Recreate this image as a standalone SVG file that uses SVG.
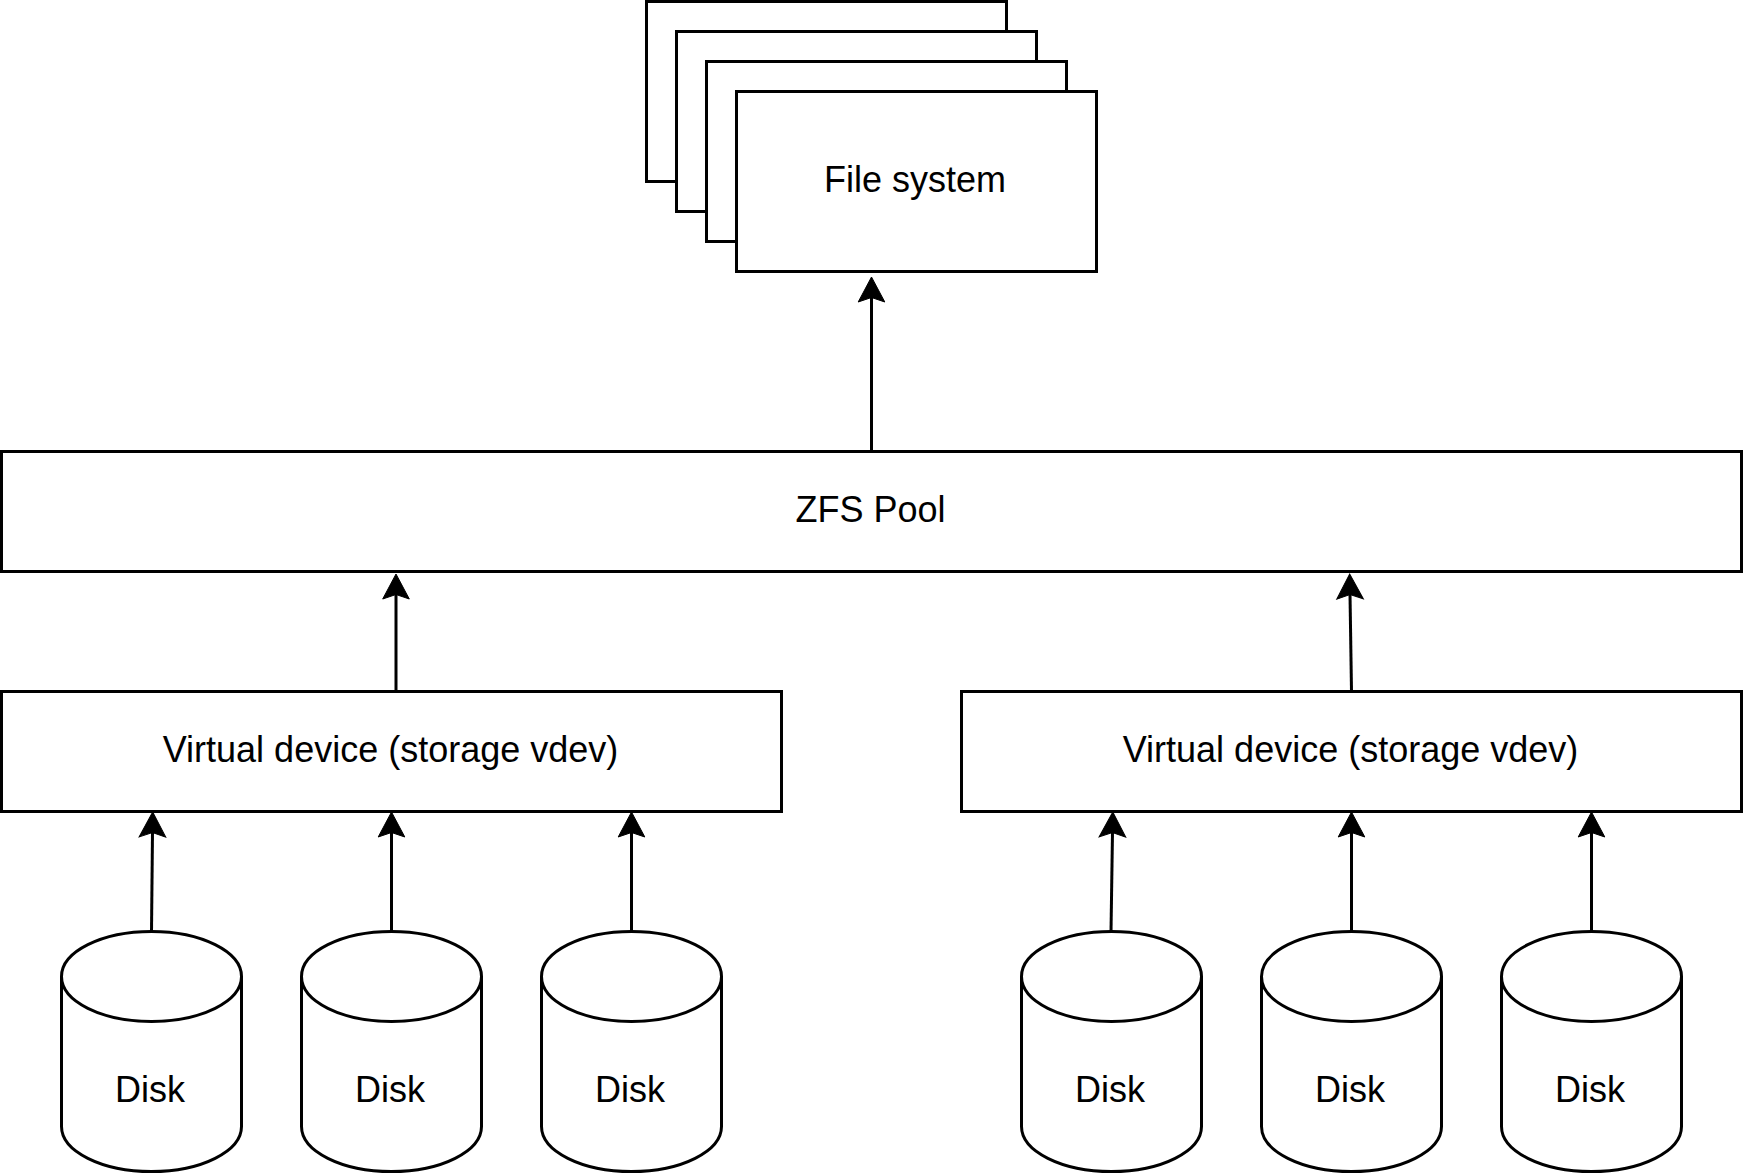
<svg xmlns="http://www.w3.org/2000/svg" width="1746" height="1176" viewBox="0 0 1746 1176">
<style>
.box{fill:#fff;stroke:#000;stroke-width:3}
.lbl{font-family:"Liberation Sans",Arial,Helvetica,sans-serif;font-size:36px;fill:#000;text-anchor:middle}
.edge{fill:none;stroke:#000;stroke-width:3;marker-end:url(#arr)}
</style>
<defs>
<marker id="arr" markerUnits="userSpaceOnUse" viewBox="-27 -15 30 30" markerWidth="30" markerHeight="30" refX="-20" refY="0" orient="auto" overflow="visible">
<path d="M0,0 L-25,-13.3 L-20.5,0 L-25,13.3 Z" fill="#000" stroke="#000" stroke-width="1"/>
</marker>
</defs>
<rect width="1746" height="1176" fill="#fff"/>
<g id="filesystem">
<rect class="box" x="646.5" y="1.5" width="360" height="180"/>
<rect class="box" x="676.5" y="31.5" width="360" height="180"/>
<rect class="box" x="706.5" y="61.5" width="360" height="180"/>
<rect class="box" x="736.5" y="91.5" width="360" height="180"/>
<text class="lbl" x="915" y="192">File system</text>
</g>
<g id="pool">
<rect class="box" x="1.5" y="451.5" width="1740" height="120"/>
<text class="lbl" x="870.5" y="521.7">ZFS Pool</text>
</g>
<g id="vdev1">
<rect class="box" x="1.5" y="691.5" width="780" height="120"/>
<text class="lbl" x="390.5" y="761.7">Virtual device (storage vdev)</text>
</g>
<g id="vdev2">
<rect class="box" x="961.5" y="691.5" width="780" height="120"/>
<text class="lbl" x="1350.5" y="761.7">Virtual device (storage vdev)</text>
</g>
<defs>
<g id="cyl">
<path class="box" d="M-90,976.5 A90,45 0 0 1 90,976.5 L90,1126.5 A90,45 0 0 1 -90,1126.5 Z"/>
<path class="box" style="fill:none" d="M-90,976.5 A90,45 0 0 0 90,976.5"/>
<text class="lbl" x="-1.5" y="1101.7">Disk</text>
</g>
</defs>
<g id="disk1"><use href="#cyl" x="151.5"/></g>
<g id="disk2"><use href="#cyl" x="391.5"/></g>
<g id="disk3"><use href="#cyl" x="631.5"/></g>
<g id="disk4"><use href="#cyl" x="1111.5"/></g>
<g id="disk5"><use href="#cyl" x="1351.5"/></g>
<g id="disk6"><use href="#cyl" x="1591.5"/></g>
<g id="connectors">
<path class="edge" d="M151.5,931.5 L152.5,832"/>
<path class="edge" d="M391.5,931.5 L391.5,832"/>
<path class="edge" d="M631.5,931.5 L631.5,832"/>
<path class="edge" d="M1111,931.5 L1112.5,832"/>
<path class="edge" d="M1351.5,931.5 L1351.5,832"/>
<path class="edge" d="M1591.5,931.5 L1591.5,832"/>
<path class="edge" d="M396,691.5 L396,594"/>
<path class="edge" d="M1351.5,691.5 L1350,594"/>
<path class="edge" d="M871.5,451.5 L871.5,297"/>
</g>
</svg>
